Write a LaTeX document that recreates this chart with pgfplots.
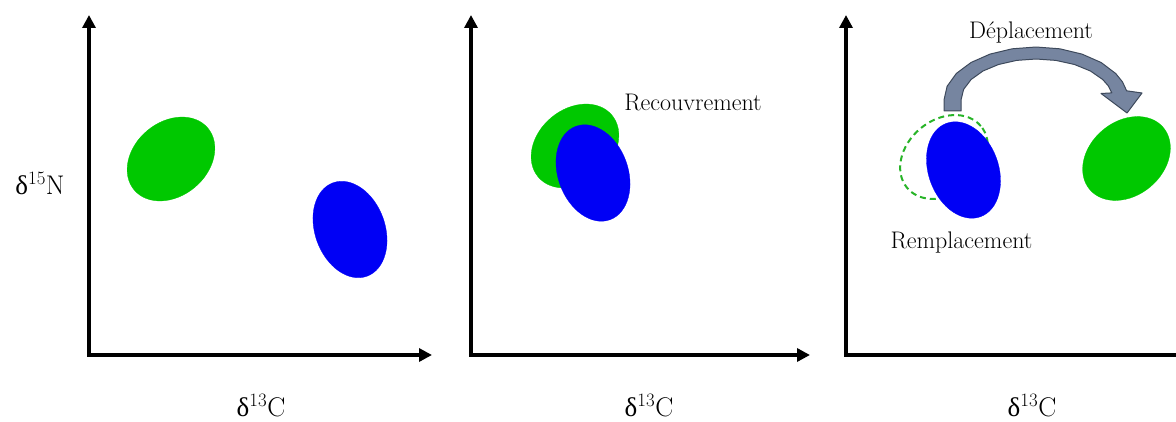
\documentclass[border=0pt]{standalone}
\usepackage{fontspec}
\newfontfamily\gr{Liberation Serif}
\usepackage{pgfplots}
\pgfplotsset{compat=1.18}
\usetikzlibrary{arrows.meta}
\definecolor{mygreen}{RGB}{0,200,0}
\definecolor{myblue}{RGB}{0,0,245}
\definecolor{dashgreen}{RGB}{40,180,40}
\definecolor{arrfill}{RGB}{118,133,160}
\definecolor{arrdraw}{RGB}{62,74,92}
\newcommand{\axlab}{\fontsize{27}{30}\selectfont}
\newcommand{\txt}{\fontsize{24}{28}\selectfont}
\pgfplotsset{
  panel/.style={
    x=1pt, y=1pt, anchor=south west,
    axis lines=left, xtick=\empty, ytick=\empty,
    enlargelimits=false, clip=false,
    axis line style={line width=4.5pt, line cap=rect},
    x axis line style={-{Triangle[length=13pt,width=13pt]}},
    y axis line style={-{Triangle[length=13pt,width=13pt]}},
  },
  greenell/.style={only marks, mark=*, color=mygreen, mark size=37pt,
    mark options={line width=0.3pt, rotate=40, xscale=1.3}},
  blueell/.style={only marks, mark=*, color=myblue, mark size=35pt,
    mark options={line width=0.3pt, rotate=110, xscale=1.42}},
}
\begin{document}
\begin{tikzpicture}
\path[use as bounding box] (0,0) rectangle (1176pt,421pt);
% Panel 1
\begin{axis}[panel, at={(89pt,66pt)}, xmin=89, xmax=432, ymin=66, ymax=406]
\addplot[greenell] coordinates {(171,262)};
\addplot[blueell] coordinates {(350,191.5)};
\node[anchor=base] at (axis cs:40,227) {\axlab{\gr δ}\textsuperscript{15}N};
\node[anchor=base] at (axis cs:261,5) {\axlab{\gr δ}\textsuperscript{13}C};
\end{axis}
% Panel 2
\begin{axis}[panel, at={(471pt,66pt)}, xmin=471, xmax=810, ymin=66, ymax=406]
\addplot[greenell] coordinates {(575,275)};
\addplot[blueell] coordinates {(593,248)};
\node[anchor=base] at (axis cs:693,310) {\txt Recouvrement};
\node[anchor=base] at (axis cs:649,5) {\axlab{\gr δ}\textsuperscript{13}C};
\end{axis}
% Panel 3
\begin{axis}[panel, at={(846pt,66pt)}, xmin=846, xmax=1189, ymin=66, ymax=406]
\addplot[only marks, mark=o, color=dashgreen, mark size=37pt,
  mark options={line width=2pt, dash pattern=on 6pt off 4pt, rotate=40, xscale=1.3}]
  coordinates {(944,264)};
\addplot[blueell] coordinates {(963.5,251)};
\addplot[greenell] coordinates {(1126.5,262.5)};
\addplot[fill=arrfill, draw=arrdraw, line width=1pt, line join=round] coordinates {
(944,310) (944,321) (947.1,334.7) (956.3,347.5) (971.0,358.5) (990,366.9)
(1012.2,372.2) (1036,374) (1059.8,372.2) (1082,366.9) (1101.1,358.5)
(1115.7,347.5) (1122.5,339.1) (1126.6,330.2) (1142,328) (1127,308)
(1101,327.5) (1111.8,328.1) (1108.4,335) (1102.7,341.5) (1090.4,350)
(1074.5,356.5) (1055.9,360.6) (1036,362) (1016.6,360.6) (998.5,356.5)
(983.0,350) (971.1,341.5) (963.6,331.6) (961,321) (961,310)
} -- cycle;
\node[anchor=base] at (axis cs:1031,382) {\txt Déplacement};
\node[anchor=base] at (axis cs:961.5,173) {\txt Remplacement};
\node[anchor=base] at (axis cs:1032,5) {\axlab{\gr δ}\textsuperscript{13}C};
\end{axis}
\end{tikzpicture}
\end{document}
